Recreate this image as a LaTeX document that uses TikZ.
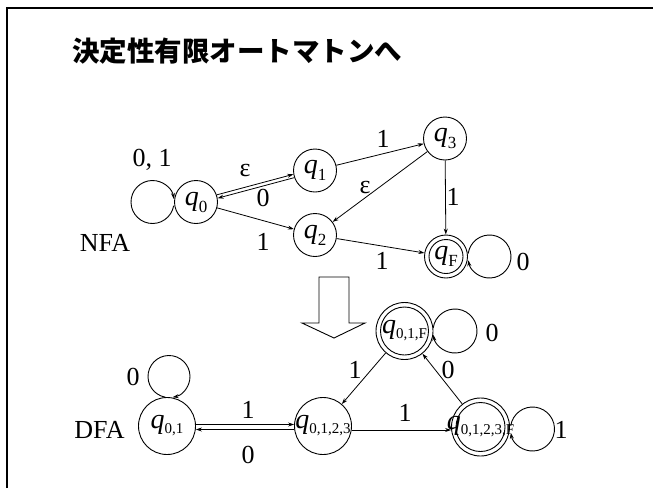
\documentclass[tikz,border=0pt]{standalone}
\usepackage{fontspec}
\setmainfont{Liberation Serif}
\newfontfamily\cjkfont{Noto Sans CJK JP}
\usetikzlibrary{arrows.meta,shapes.geometric,calc}
\newcommand\qsub[3]{\textit{q}\raisebox{#3}{\fontsize{#2}{#2}\selectfont #1}}
\tikzset{
  st/.style={circle,draw,line width=0.9pt,minimum size=43pt,inner sep=0pt},
  dst/.style={circle,draw,line width=0.9pt,minimum size=57pt,inner sep=0pt},
  qtxt/.style={font=\fontsize{28}{28}\selectfont,inner sep=0pt},
  lbl/.style={font=\fontsize{26}{26}\selectfont,inner sep=0pt},
  edge/.style={line width=0.8pt,-{Stealth[length=6pt,width=4pt]}},
  loopc/.style={line width=0.9pt,-{Stealth[length=6pt,width=4pt]}},
}
\begin{document}
\begin{tikzpicture}[x=1pt,y=-1pt]
\useasboundingbox (0,0) rectangle (653,488);
% frame
\draw[line width=2.5pt] (7,488) -- (7,8) -- (653,8);
% title
\node[anchor=west,inner sep=0pt,font=\cjkfont\bfseries\fontsize{27.5}{27.5}\selectfont] (title) at (72,51) {決定性有限オートマトンへ};
% ---------- NFA ----------
\node[lbl] (nfa) at (105,243) {NFA};
\node[st] (q0) at (196,202) {};
\node[st] (q1) at (315,170.5) {};
\node[st] (q2) at (315,235) {};
\node[st] (q3) at (445,138.5) {};
\node[st] (qF) at (446,256.5) {};
\node[circle,draw,line width=0.9pt,minimum size=34pt,inner sep=0pt] (qFi) at (qF) {};
\node[qtxt] (t0) at (q0) {\qsub{0}{17}{-7pt}};
\node[qtxt] (t1) at (q1) {\qsub{1}{17}{-7pt}};
\node[qtxt] (t2) at (q2) {\qsub{2}{17}{-7pt}};
\node[qtxt] (t3) at (q3) {\qsub{3}{17}{-7pt}};
\node[qtxt] (tF) at (qF) {\qsub{F}{17}{-7pt}};
% loops (angles here are measured with y pointing down)
\coordinate (l0) at (152.5,202);
\draw[loopc] (l0) ++(10:21.5) arc[start angle=10,end angle=352,radius=21.5];
\node[lbl] (l0t) at (152,160) {0, 1};
\coordinate (lF) at (489.5,256.5);
\draw[loopc] (lF) ++(188:21.5) arc[start angle=188,end angle=530,radius=21.5];
\node[lbl] (lFt) at (523,262) {0};
% edges
\draw[edge] (q0.19.3) -- (q1.190.3);
\draw[edge] (q1.199.3) -- (q0.10.3);
\node[lbl] (e01) at (245,170) {ε};
\node[lbl] (e10) at (263,198) {0};
\draw[edge] (q0) -- (q2);
\node[lbl] (e02) at (263,242) {1};
\draw[edge] (q1) -- (q3);
\node[lbl] (e13) at (383,139) {1};
\draw[edge] (q3) -- (q2);
\node[lbl] (e32) at (365,187) {ε};
\draw[edge] (q3) -- (qF);
\node[lbl] (e3F) at (453,197) {1};
\draw[edge] (q2) -- (qF);
\node[lbl] (e2F) at (382,261) {1};
% hollow arrow
\draw[line width=0.9pt,fill=white] (319,277) -- (349,277) -- (349,323) -- (365,323) -- (334,338) -- (302,323) -- (319,323) -- cycle;
% ---------- DFA ----------
\node[lbl] (dfa) at (99.5,430) {DFA};
\node[dst] (d01) at (167,426) {};
\node[dst] (d0123) at (323,426) {};
\node[dst] (d01F) at (404.5,331) {};
\node[circle,draw,line width=0.9pt,minimum size=48pt,inner sep=0pt] (d01Fi) at (d01F) {};
\node[dst,minimum size=58pt] (d0123F) at (480.5,427) {};
\node[circle,draw,line width=0.9pt,minimum size=49pt,inner sep=0pt] (d0123Fi) at (d0123F) {};
\node[qtxt] (u01) at (d01) {\qsub{0,1}{15}{-5pt}};
\node[qtxt] (u0123) at (d0123) {\qsub{0,1,2,3}{15}{-5pt}};
\node[qtxt] (u01F) at (d01F) {\qsub{0,1,F}{15}{-5pt}};
\node[qtxt] (u0123F) at (d0123F) {\qsub{0,1,2,3,F}{15}{-5pt}};
% loops
\coordinate (m01) at (169,376.5);
\draw[loopc] (m01) ++(100:21) arc[start angle=100,end angle=440,radius=21];
\node[lbl] (m01t) at (133,377) {0};
\coordinate (m01F) at (455,331);
\draw[loopc] (m01F) ++(188:22) arc[start angle=188,end angle=530,radius=22];
\node[lbl] (m01Ft) at (492,333) {0};
\coordinate (m0123F) at (532.5,429);
\draw[loopc] (m0123F) ++(188:22) arc[start angle=188,end angle=530,radius=22];
\node[lbl] (m0123Ft) at (561,430) {1};
% edges
\draw[edge] ([yshift=1.5pt]d01.east) -- ([yshift=1.5pt]d0123.west);
\draw[edge] ([yshift=-3.5pt]d0123.west) -- ([yshift=-3.5pt]d01.east);
\node[lbl] (f1) at (248,410) {1};
\node[lbl] (f0) at (248,455) {0};
\draw[edge] (d01F) -- (d0123);
\node[lbl] (f2) at (355,370) {1};
\draw[edge] (d0123F) -- (d01F);
\node[lbl] (f3) at (448,370) {0};
\draw[edge] ([yshift=-4pt]d0123.east) -- ([yshift=-3pt]d0123F.west);
\node[lbl] (f4) at (405,413) {1};
\end{tikzpicture}
\end{document}
